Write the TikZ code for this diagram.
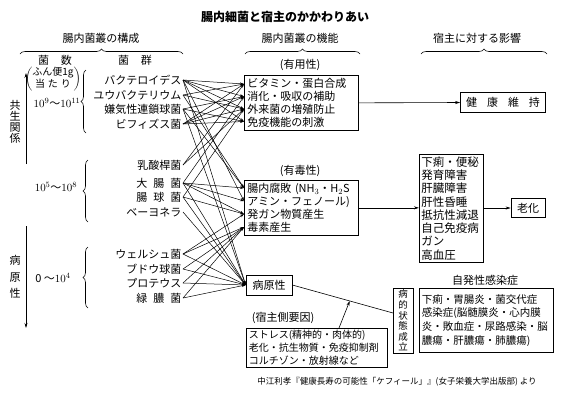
\documentclass[tikz,border=0pt]{standalone}
\usepackage{fontspec}
\setmainfont{Noto Sans CJK JP}
\usetikzlibrary{arrows.meta,decorations.pathreplacing,calc}

\tikzset{
  txt/.style={inner sep=0pt, font=\fontsize{11}{13}\selectfont},
  bacname/.style={txt, anchor=east, inner xsep=1.5pt},
  funcbox/.style={draw, line width=0.7pt, anchor=north west, align=left, inner xsep=3pt, inner ysep=0pt, font=\fontsize{11}{12.9}\selectfont},
  smallbox/.style={draw, line width=0.7pt, inner sep=0pt, font=\fontsize{11}{13}\selectfont},
  link/.style={line width=0.5pt, -{Stealth[length=4pt,width=2.6pt]}},
  flow/.style={line width=0.6pt, -{Stealth[length=5pt,width=3pt]}},
  grpbrace/.style={decorate, decoration={brace, amplitude=5pt}, line width=0.6pt},
}

\begin{document}
\begin{tikzpicture}[x=1pt,y=-1pt]
\useasboundingbox (0,0) rectangle (571,400);

% title and headings
\node[txt, font=\bfseries\fontsize{12}{14}\selectfont] (title) at (285,17) {腸内細菌と宿主のかかわりあい};
\node[txt] (headcomp) at (101,38) {腸内菌叢の構成};
\node[txt] (headfunc) at (300,38) {腸内菌叢の機能};
\node[txt] (headhost) at (477,38) {宿主に対する影響};
\draw[grpbrace] (20,54) -- (183,54);
\draw[grpbrace] (245,54) -- (360,54);
\draw[grpbrace] (421,54) -- (547,54);

% counts
\node[txt] (colnum) at (55,60) {菌\hspace{12pt}数};
\node[txt] (colgrp) at (135,60) {菌\hspace{12pt}群};
\node[txt, font=\fontsize{10}{11}\selectfont] (perg) at (53,79) {$\left(\mbox{\begin{tabular}{@{}c@{}}ふん便1g\\当\hspace{3pt}た\hspace{3pt}り\end{tabular}}\right)$};
\node[txt] (cnt1) at (57,103) {$10^{9}$～$10^{11}$};
\node[txt] (cnt2) at (56,187) {$10^{5}$～$10^{8}$};
\node[txt] (cnt3) at (53,278) {0 ～$10^{4}$};
\draw[grpbrace] (86,133) -- (86,70);
\draw[grpbrace] (88,222) -- (88,160);
\draw[grpbrace] (88,308) -- (88,247);

% left axis
\coordinate (symlo) at (26,164);
\coordinate (symhi) at (26,73);
\coordinate (pathhi) at (26,226);
\coordinate (pathlo) at (26,328);
\draw[flow] (symlo) -- (symhi);
\draw[flow] (pathhi) -- (pathlo);
\node[txt, align=center, font=\fontsize{11}{11.2}\selectfont] (symb) at (15,122) {共\\生\\関\\係};
\node[txt, align=center, font=\fontsize{11}{16.5}\selectfont] (patho) at (15,277) {病\\原\\性};

% bacterial groups
\node[bacname] (bac1) at (183,80) {バクテロイデス};
\node[bacname] (bac2) at (183,95) {ユウバクテリウム};
\node[bacname] (bac3) at (183,109) {嫌気性連鎖球菌};
\node[bacname] (bac4) at (183,124) {ビフィズス菌};
\node[bacname] (bac5) at (183,165) {乳酸桿菌};
\node[bacname] (bac6) at (183,183) {大\hspace{6pt}腸\hspace{6pt}菌};
\node[bacname] (bac7) at (183,197) {腸\hspace{6pt}球\hspace{6pt}菌};
\node[bacname] (bac8) at (183,212) {ベーヨネラ};
\node[bacname] (bac9) at (183,254) {ウェルシュ菌};
\node[bacname] (bac10) at (183,269) {ブドウ球菌};
\node[bacname] (bac11) at (183,283) {プロテウス};
\node[bacname] (bac12) at (183,298) {緑\hspace{6pt}膿\hspace{6pt}菌};

% functions
\node[txt] (usetitle) at (300,65) {(有用性)};
\node[funcbox, text width=108pt, minimum height=55pt] (useful) at (244,75) {ビタミン・蛋白合成\\消化・吸収の補助\\外来菌の増殖防止\\免疫機能の刺激};
\node[txt] (toxtitle) at (300,171) {(有毒性)};
\node[funcbox, text width=108pt, minimum height=55pt] (toxic) at (244,180) {腸内腐敗 (NH$_3$・H$_2$S\\アミン・フェノール)\\発ガン物質産生\\毒素産生};
\node[smallbox, minimum width=46pt, minimum height=20pt] (pathbox) at (269,285) {病原性};

\path (useful.north west) ++(0,9) coordinate (f1) ++(0,12.5) coordinate (f2) ++(0,12.5) coordinate (f3) ++(0,12.5) coordinate (f4);
\path (toxic.north west) ++(0,8) coordinate (g1) ++(0,13) coordinate (g2) ++(0,13) coordinate (g3) ++(0,13) coordinate (g4);

\foreach \s/\t in {bac1/f1, bac1/f2, bac1/f3, bac1/f4, bac1/g2, bac1/pathbox.west,
                   bac2/f1, bac2/f3, bac2/g1,
                   bac3/f2, bac3/f4, bac3/g1, bac3/pathbox.west,
                   bac4/f1, bac4/f2, bac4/f3, bac4/f4,
                   bac5/f1, bac5/f3,
                   bac6/f2, bac6/g1, bac6/g2, bac6/g3, bac6/pathbox.west,
                   bac7/f3, bac7/g3, bac7/pathbox.west,
                   bac8/pathbox.west,
                   bac9/g3, bac9/g4, bac9/pathbox.west,
                   bac10/g4, bac10/pathbox.west,
                   bac11/g4, bac11/pathbox.west,
                   bac12/g4, bac12/pathbox.west}
  \draw[link] (\s.east) -- (\t);

% effects on host
\node[smallbox, minimum width=85pt, minimum height=20pt] (health) at (503,102.5) {健\hspace{10pt}康\hspace{10pt}維\hspace{10pt}持};
\node[funcbox, font=\fontsize{11.5}{13.3}\selectfont, inner xsep=2pt, text width=60pt, minimum height=108pt] (disease) at (419,154) {下痢・便秘\\発育障害\\肝臓障害\\肝性昏睡\\抵抗性減退\\自己免疫病\\ガン\\高血圧};
\node[smallbox, minimum width=34pt, minimum height=19pt] (aging) at (528,208) {老化};
\draw[flow] (useful.east) -- (health.west);
\draw[flow] (toxic.east) -- (disease.west |- toxic.east);
\draw[flow] (disease.east |- aging.west) -- (aging.west);

% pathological state
\node[draw, line width=0.7pt, align=center, inner sep=0pt, minimum width=20pt, minimum height=65pt, font=\fontsize{9.5}{10.6}\selectfont] (onset) at (403,320.5) {病\\的\\状\\態\\成\\立};
\node[txt] (sptitle) at (485,280) {自発性感染症};
\node[funcbox, inner xsep=2.5pt, text width=129pt, minimum height=64pt, font=\fontsize{10.5}{13.7}\selectfont] (infect) at (419,288) {下痢・胃腸炎・菌交代症\\感染症(脳髄膜炎・心内膜\\炎・敗血症・尿路感染・脳\\膿瘍・肝膿瘍・肺膿瘍)};
\coordinate (onsetin) at (393,313);
\draw[line width=0.6pt] (pathbox.east) -- (onsetin);

\node[txt] (hosttitle) at (283,318) {(宿主側要因)};
\node[funcbox, inner xsep=2.5pt, text width=136pt, minimum height=39pt, font=\fontsize{10}{13}\selectfont] (hostbox) at (246,328) {ストレス(精神的・肉体的)\\老化・抗生物質・免疫抑制剤\\コルチゾン・放射線など};
\coordinate (hostout) at (339,328);
\coordinate (hosthit) at ($(pathbox.east)!0.57!(onsetin)$);
\draw[flow] (hostout) -- (hosthit);

% source
\node[txt, font=\fontsize{8.5}{10}\selectfont] (source) at (397,382) {中江利孝『健康長寿の可能性「ケフィール」』(女子栄養大学出版部) より};
\end{tikzpicture}
\end{document}
